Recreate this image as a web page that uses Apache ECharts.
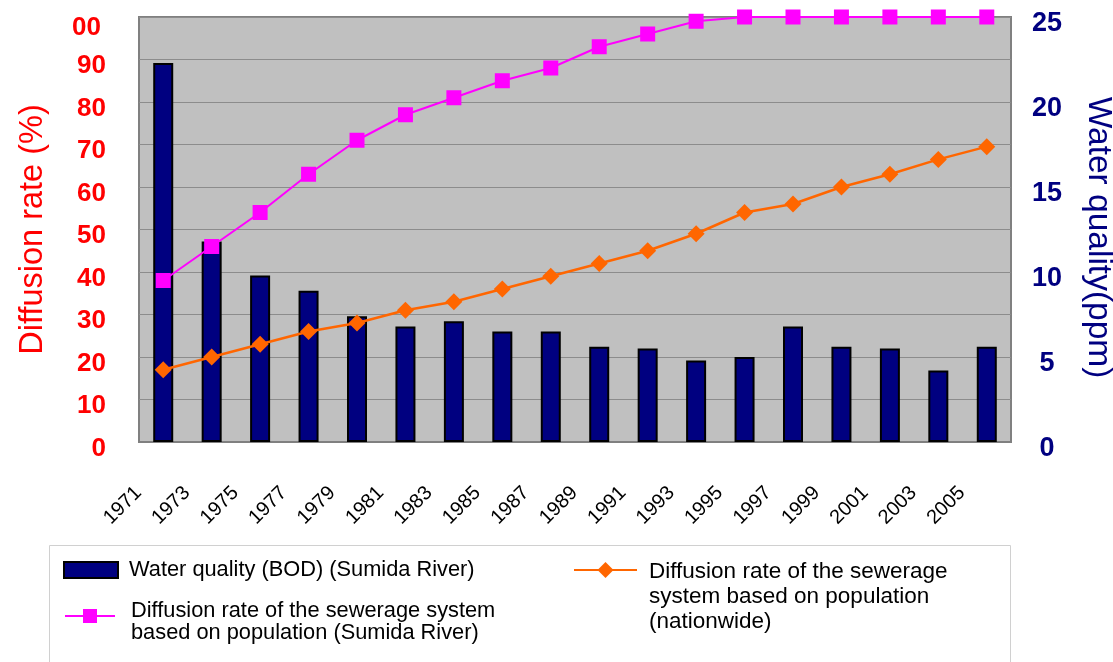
<!DOCTYPE html>
<html>
<head>
<meta charset="utf-8">
<script src="https://cdn.jsdelivr.net/npm/echarts@6/dist/echarts.min.js"></script>
<style>
  html, body { margin: 0; padding: 0; background: #fff; }
  #chart { width: 1113px; height: 662px; }
</style>
</head>
<body>
<div id="chart"></div>
<script>
// Survey years (every second year)
const years = ['1971', '1973', '1975', '1977', '1979', '1981', '1983', '1985', '1987',
               '1989', '1991', '1993', '1995', '1997', '1999', '2001', '2003', '2005'];

// Water quality, BOD of the Sumida River (ppm, right axis)
const bodSumida = [22.3, 11.8, 9.8, 8.9, 7.4, 6.8, 7.1, 6.5, 6.5,
                   5.6, 5.5, 4.8, 5.0, 6.8, 5.6, 5.5, 4.2, 5.6];

// Sewerage diffusion rate by population, Sumida River basin (%, left axis)
const sewerSumida = [38, 46, 54, 63, 71, 77, 81, 85, 88,
                     93, 96, 99, 100, 100, 100, 100, 100, 100];

// Sewerage diffusion rate by population, nationwide (%, left axis)
const sewerNation = [17, 20, 23, 26, 28, 31, 33, 36, 39,
                     42, 45, 49, 54, 56, 60, 63, 66.5, 69.5];

const nameBod = 'Water quality (BOD) (Sumida River)';
const nameSumida = 'Diffusion rate of the sewerage system based on population (Sumida River)';
const nameNation = 'Diffusion rate of the sewerage system based on population (nationwide)';

// Legend wording with its line breaks (a leading spacer line sets where the text sits next to the icon)
const legendText = {};
legendText[nameBod] = 'Water quality (BOD) (Sumida River)';
legendText[nameSumida] = '{gap| }\n{b|Diffusion rate of the sewerage system}\n{b|based on population (Sumida River)}';
legendText[nameNation] = '{gap| }\n{c|Diffusion rate of the sewerage}\n{c|system based on population}\n{c|(nationwide)}';

const FONT = '"Liberation Sans", Arial, sans-serif';

const chart = echarts.init(document.getElementById('chart'), null, { renderer: 'canvas' });

chart.setOption({
  animation: false,
  backgroundColor: '#ffffff',
  textStyle: { fontFamily: FONT },
  grid: {
    left: 139, top: 17, width: 872, height: 425,
    show: true,
    backgroundColor: '#c0c0c0',
    borderColor: '#808080',
    borderWidth: 2,
    containLabel: false,
    outerBoundsMode: 'none'
  },
  graphic: [{
    type: 'rect',
    shape: { x: 49.5, y: 545.5, width: 961, height: 140 },
    style: { fill: '#ffffff', stroke: '#d0d0d0', lineWidth: 1 },
    silent: true
  }],
  legend: [
    {
      data: [nameBod],
      left: 63, top: 559, padding: 0,
      itemWidth: 54, itemHeight: 16,
      icon: 'rect',
      itemStyle: { color: '#000080', borderColor: '#000000', borderWidth: 2 },
      selectedMode: false,
      formatter: function (n) { return legendText[n]; },
      textStyle: { color: '#000', fontSize: 21.8, fontFamily: FONT, lineHeight: 22, padding: [0, 0, 0, 6] }
    },
    {
      data: [nameSumida],
      left: 64, top: 592, padding: 0,
      itemWidth: 50, itemHeight: 17.5,
      selectedMode: false,
      formatter: function (n) { return legendText[n]; },
      textStyle: {
        color: '#000', fontSize: 21.8, fontFamily: FONT, padding: [0, 0, 0, 11],
        rich: {
          gap: { fontSize: 4, lineHeight: 12 },
          b: { color: '#000', fontSize: 21.8, fontFamily: FONT, lineHeight: 22 }
        }
      }
    },
    {
      data: [nameNation],
      left: 573, top: 530.5, padding: 0,
      itemWidth: 63, itemHeight: 20,
      selectedMode: false,
      formatter: function (n) { return legendText[n]; },
      textStyle: {
        color: '#000', fontSize: 22.5, fontFamily: FONT, padding: [0, 0, 0, 7],
        rich: {
          gap: { fontSize: 4, lineHeight: 54 },
          c: { color: '#000', fontSize: 22.5, fontFamily: FONT, lineHeight: 25 }
        }
      }
    }
  ],
  xAxis: {
    type: 'category',
    data: years,
    boundaryGap: true,
    axisLine: { lineStyle: { color: '#808080', width: 2 } },
    axisTick: { inside: true, length: 5, lineStyle: { color: '#808080' } },
    axisLabel: {
      interval: 0, rotate: 45, margin: 23, padding: [0, 35, 0, 0],
      color: '#000', fontSize: 20, fontFamily: FONT
    },
    splitLine: { show: false }
  },
  yAxis: [
    {
      type: 'value', min: 0, max: 100, interval: 10, position: 'left',
      name: 'Diffusion rate (%)',
      nameLocation: 'middle', nameGap: 89,
      nameTextStyle: { color: '#ff0000', fontSize: 32.5, fontFamily: FONT },
      axisLine: { show: false },
      axisTick: { show: false },
      axisLabel: {
        color: '#ff0000', fontSize: 26, fontWeight: 'bold', fontFamily: FONT,
        margin: 33, verticalAlign: 'top', lineHeight: 13,
        formatter: function (v) { return v === 100 ? '{t|00}' : String(v); },
        rich: { t: { color: '#ff0000', fontSize: 26, fontWeight: 'bold', fontFamily: FONT, lineHeight: 21, padding: [0, 5, 0, 0] } }
      },
      splitLine: { show: true, lineStyle: { color: '#8c8c8c', width: 1 } }
    },
    {
      type: 'value', min: 0, max: 25, interval: 5, position: 'right',
      name: 'Water quality(ppm)',
      nameLocation: 'middle', nameRotate: -90, nameGap: 70,
      nameTextStyle: { color: '#000080', fontSize: 33.5, fontFamily: FONT, padding: [0, 0, 0, 16] },
      axisLine: { show: false },
      axisTick: { show: false },
      axisLabel: {
        color: '#000080', fontSize: 27, fontWeight: 'bold', fontFamily: FONT,
        align: 'center', margin: 36, verticalAlign: 'top', lineHeight: 13
      },
      splitLine: { show: false }
    }
  ],
  series: [
    {
      name: nameBod,
      type: 'bar',
      yAxisIndex: 1,
      data: bodSumida,
      barWidth: 20,
      itemStyle: { color: '#000080', borderColor: '#000000', borderWidth: 2 }
    },
    {
      name: nameSumida,
      type: 'line',
      yAxisIndex: 0,
      data: sewerSumida,
      symbol: 'rect',
      symbolSize: 15,
      clip: false,
      lineStyle: { color: '#ff00ff', width: 2 },
      itemStyle: { color: '#ff00ff' }
    },
    {
      name: nameNation,
      type: 'line',
      yAxisIndex: 0,
      data: sewerNation,
      symbol: 'diamond',
      symbolSize: 17,
      clip: false,
      lineStyle: { color: '#ff6600', width: 2.5 },
      itemStyle: { color: '#ff6600' }
    }
  ]
});
</script>
</body>
</html>
